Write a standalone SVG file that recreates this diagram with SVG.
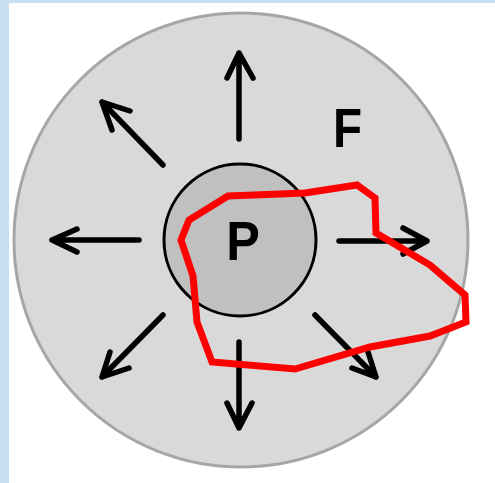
<svg xmlns="http://www.w3.org/2000/svg" width="495" height="483" viewBox="0 0 495 483">
<style>
.arr{fill:none;stroke:#000;stroke-width:5.5;stroke-linecap:round;stroke-linejoin:round}
.lbl{font-family:"Liberation Sans",Arial,sans-serif;font-weight:bold;fill:#000}
</style>
<rect x="0" y="0" width="495" height="483" fill="#c9e0f1"/>
<rect x="9" y="3" width="486" height="480" fill="#ffffff"/>
<g id="outer">
<circle cx="241" cy="240" r="227" fill="#d9d9d9" stroke="#a6a6a6" stroke-width="3"/>
<text class="lbl" x="333" y="147" font-size="56" transform="translate(333 0) scale(0.85 1) translate(-333 0)">F</text>
</g>
<g id="inner">
<circle cx="240" cy="240" r="76" fill="#c0c0c0" stroke="#000" stroke-width="3"/>
<text class="lbl" x="243" y="260" font-size="56" text-anchor="middle" transform="translate(243 0) scale(0.9 1) translate(-243 0)">P</text>
</g>
<g id="connectors">
<path class="arr" d="M239 139 L239 53 M227 78 L239 53 L253 78"/>
<path class="arr" d="M163 165 L102 102 M112 130 L102 102 L130 111"/>
<path class="arr" d="M139 240 L52 240 M77 229 L52 240 L77 252"/>
<path class="arr" d="M339 241 L427 241 M403 228 L427 241 L403 254"/>
<path class="arr" d="M315 315 L376 377 M352 368 L376 377 L368 352"/>
<path class="arr" d="M239 342 L239 428 M227 403 L239 428 L252 403"/>
<path class="arr" d="M163 315 L102 377 M110 352 L102 377 L129 368"/>
</g>
<g id="boundary">
<polygon points="228,196 305,193 357,185 375,198 376,233 430,265 465,295 466,322 430,336 370,347 295,369 212,362 197,322 193,276 181,240 189,220" fill="none" stroke="#ff0000" stroke-width="7" stroke-linejoin="miter"/>
</g>
</svg>
